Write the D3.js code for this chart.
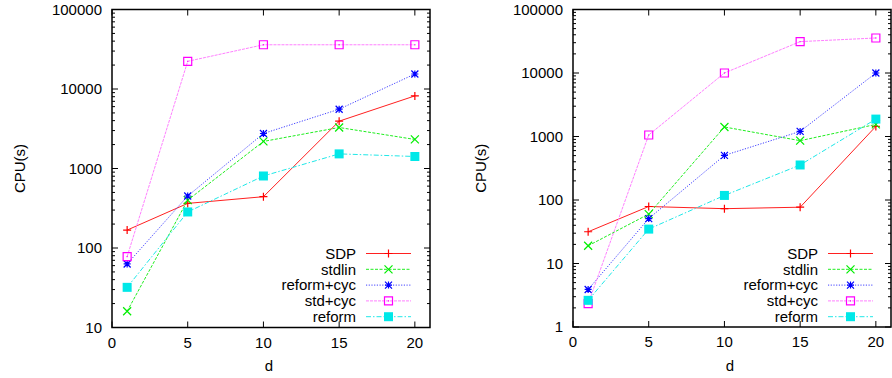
<!DOCTYPE html>
<html>
<head>
<meta charset="utf-8">
<script src="https://cdn.jsdelivr.net/npm/d3@7"></script>
<style>
  body { margin: 0; background: #fff; }
  svg text { font-family: "Liberation Sans", Arial, sans-serif; font-size: 15px; fill: #000; }
</style>
</head>
<body>
<svg id="chart" width="892" height="378"></svg>
<script>
// x values shared by both panels
const dValues = [1, 5, 10, 15, 20];
const xTicks = [0, 5, 10, 15, 20];
const seriesNames = ["SDP", "stdlin", "reform+cyc", "std+cyc", "reform"];

// left panel (CPU seconds)
const leftSDP       = [168, 364, 442, 3940, 8190];
const leftStdlin    = [16, 400, 2190, 3280, 2320];
const leftReformCyc = [63, 451, 2755, 5570, 15450];
const leftStdCyc    = [78, 22300, 36000, 36000, 36000];
const leftReform    = [32, 284, 805, 1527, 1416];
const leftYTicks = [10, 100, 1000, 10000, 100000];

// right panel
const rightSDP       = [31.6, 79, 73, 77, 1442];
const rightStdlin    = [19, 60, 1412, 859, 1550];
const rightReformCyc = [3.9, 51, 504, 1203, 10000];
const rightStdCyc    = [2.33, 1056, 10000, 31200, 35600];
const rightReform    = [2.63, 34.8, 118, 356, 1880];
const rightYTicks = [1, 10, 100, 1000, 10000, 100000];

const styles = [
  { color: "#ff0000", line: "#ff2020", dash: null,      marker: "plus" },
  { color: "#00ee00", line: "#20ee20", dash: "3,1.5",   marker: "cross" },
  { color: "#0000ff", line: "#4040ff", dash: "1.2,1.5", marker: "star" },
  { color: "#ff00ff", line: "#ff80ff", dash: "3,1",     marker: "box" },
  { color: "#00e8e8", line: "#20e8e8", dash: "5,2,1.5,2", marker: "fbox" }
];

const svg = d3.select("#chart");

function markerPath(type, s) {
  const h = s / 2;
  const plus = `M${-h},0H${h}M0,${-h}V${h}`;
  const cross = `M${-h},${-h}L${h},${h}M${-h},${h}L${h},${-h}`;
  if (type === "plus") return plus;
  if (type === "cross") return cross;
  if (type === "star") return plus + cross;
  return `M${-h},${-h}H${h}V${h}H${-h}Z`;
}

function drawMarker(g, type, color, x, y) {
  if (type === "box") {
    g.append("path").attr("d", markerPath("box", 8)).attr("transform", `translate(${x},${y})`)
      .attr("fill", "none").attr("stroke", color).attr("stroke-width", 1.2);
    g.append("rect").attr("x", x - 0.6).attr("y", y - 0.6).attr("width", 1.2).attr("height", 1.2).attr("fill", color);
  } else if (type === "fbox") {
    g.append("path").attr("d", markerPath("box", 9)).attr("transform", `translate(${x},${y})`)
      .attr("fill", color).attr("stroke", "none");
  } else {
    g.append("path").attr("d", markerPath(type, type === "star" ? 7 : 8)).attr("transform", `translate(${x},${y})`)
      .attr("fill", "none").attr("stroke", color).attr("stroke-width", 1.2);
  }
}

function drawPanel(p) {
  const x = d3.scaleLinear().domain([0, 21]).range([p.left, p.right]);
  const y = d3.scaleLog().domain([p.yTicks[0], p.yTicks[p.yTicks.length - 1]]).range([p.bottom, p.top]);
  const g = svg.append("g");

  // log-axis ticks (major + minor), mirrored on both sides
  const minor = [];
  p.yTicks.slice(0, -1).forEach(v => { for (let k = 2; k <= 9; k++) minor.push(v * k); });
  g.selectAll(null).data(minor).join("path")
    .attr("d", v => `M${p.left},${y(v)}h3M${p.right},${y(v)}h-3`)
    .attr("stroke", "#000").attr("stroke-width", 1);
  g.selectAll(null).data(p.yTicks).join("path")
    .attr("d", v => `M${p.left},${y(v)}h6M${p.right},${y(v)}h-6`)
    .attr("stroke", "#000").attr("stroke-width", 1);
  g.selectAll(null).data(xTicks).join("path")
    .attr("d", v => `M${x(v)},${p.bottom}v-6M${x(v)},${p.top}v6`)
    .attr("stroke", "#000").attr("stroke-width", 1);

  g.selectAll(null).data(p.yTicks).join("text")
    .attr("x", p.left - 10).attr("y", v => y(v)).attr("dy", "0.35em")
    .attr("text-anchor", "end").text(v => v);
  g.selectAll(null).data(xTicks).join("text")
    .attr("x", v => x(v)).attr("y", p.bottom + 20)
    .attr("text-anchor", "middle").text(v => v);

  g.append("text").attr("x", (p.left + p.right) / 2 - 2).attr("y", 371)
    .attr("text-anchor", "middle").text("d");
  g.append("text").attr("transform", `translate(${p.left - 92},${(p.top + p.bottom) / 2}) rotate(-90)`)
    .attr("dy", "0.35em").attr("text-anchor", "middle").text("CPU(s)");

  const line = d3.line().x((d, i) => x(dValues[i])).y(d => y(d));
  p.series.forEach((vals, si) => {
    const st = styles[si];
    g.append("path").attr("d", line(vals)).attr("fill", "none")
      .attr("stroke", st.line).attr("stroke-width", 1)
      .attr("stroke-dasharray", st.dash);
    vals.forEach((v, i) => drawMarker(g, st.marker, st.color, x(dValues[i]), y(v)));

    // legend
    const ly = 253.5 + si * 15.8;
    g.append("text").attr("x", p.legendX).attr("y", ly).attr("dy", "0.35em")
      .attr("text-anchor", "end").text(seriesNames[si]);
    g.append("line").attr("x1", p.legendX + 10).attr("x2", p.legendX + 55)
      .attr("y1", ly).attr("y2", ly)
      .attr("stroke", st.line).attr("stroke-width", 1).attr("stroke-dasharray", st.dash);
    drawMarker(g, st.marker, st.color, p.legendX + 32.5, ly);
  });

  g.append("rect").attr("x", p.left).attr("y", p.top)
    .attr("width", p.right - p.left).attr("height", p.bottom - p.top)
    .attr("fill", "none").attr("stroke", "#000").attr("stroke-width", 1.5);
}

drawPanel({
  left: 112, right: 430, top: 9.5, bottom: 327.5, yTicks: leftYTicks, legendX: 356,
  series: [leftSDP, leftStdlin, leftReformCyc, leftStdCyc, leftReform]
});
drawPanel({
  left: 573, right: 891, top: 9.5, bottom: 327, yTicks: rightYTicks, legendX: 818,
  series: [rightSDP, rightStdlin, rightReformCyc, rightStdCyc, rightReform]
});
</script>
</body>
</html>
